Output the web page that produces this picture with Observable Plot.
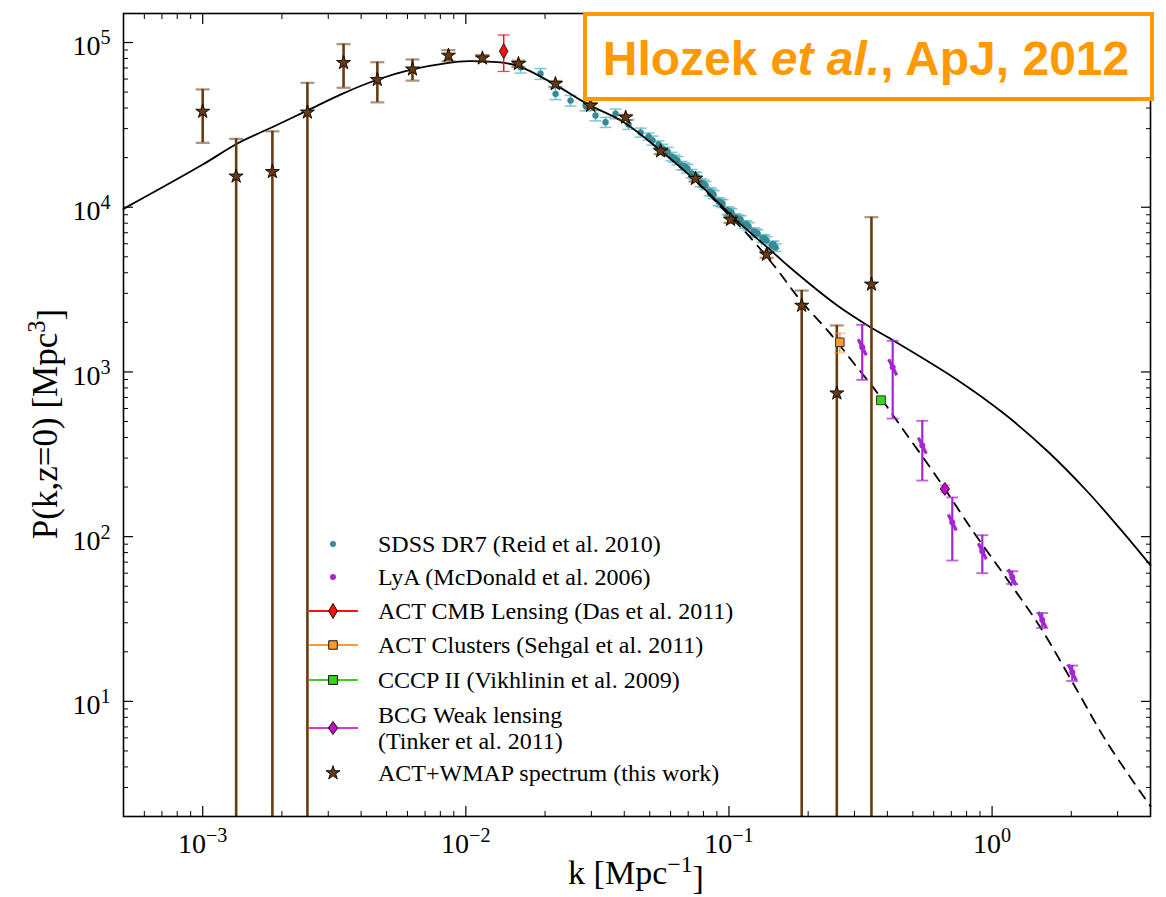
<!DOCTYPE html>
<html>
<head>
<meta charset="utf-8">
<script src="https://cdn.jsdelivr.net/npm/d3@7"></script>
<script src="https://cdn.jsdelivr.net/npm/@observablehq/plot@0.6"></script>
<style>
  html, body { margin: 0; padding: 0; background: #fff; }
  #chart { width: 1166px; height: 897px; }
</style>
</head>
<body>
<div id="chart"></div>
<script>
// ---------- data ----------
// Axis ranges and decade tick labels
const xDomain = [5e-4, 4];
const yDomain = [2, 1.5e5];
const xMajor = [1e-3, 1e-2, 1e-1, 1];
const xMajorExp = ["\u22123", "\u22122", "\u22121", "0"];
const yMajor = [1e1, 1e2, 1e3, 1e4, 1e5];
const yMajorExp = ["1", "2", "3", "4", "5"];

// Nonlinear model power spectrum (solid)
const nlK = [5.0e-4, 0.001, 0.00135, 0.001836, 0.002494, 0.003388, 0.004603, 0.006252, 0.00861, 0.01026, 0.0117, 0.01393, 0.01589, 0.02158, 0.0289, 0.03981, 0.05495, 0.07464, 0.1105, 0.1482, 0.1689, 0.2582, 0.3452, 0.4112, 0.7261, 1.109, 1.621, 2.301, 3.078, 4.003];
const nlP = [9770, 18150, 24300, 30600, 38600, 48800, 59400, 68600, 75300, 77000, 76700, 75300, 71800, 56100, 42400, 32800, 22100, 14500, 7929, 5264, 4365, 2530, 1868, 1589, 910, 559, 331, 188, 110.7, 66.9];

// Linear model power spectrum (dashed)
const linK = [0.07464, 0.0929, 0.1140, 0.1482, 0.1872, 0.2432, 0.3076, 0.3504, 0.4488, 0.6189, 0.8528, 1.142, 1.529, 2.108, 2.741, 4.003];
const linP = [14500, 10090, 7230, 4430, 2716, 1702, 1060, 820, 470, 228, 106, 55, 28, 11.6, 5.6, 2.3];

// SDSS DR7 LRG band powers
const sdssK = [0.01614, 0.01922, 0.02193, 0.02500, 0.02851, 0.03112, 0.03396, 0.03707, 0.04153, 0.04613, 0.05124, 0.05592, 0.05842, 0.06050, 0.06375, 0.06602, 0.06958, 0.07208, 0.07530, 0.07799, 0.08148, 0.08438, 0.08738, 0.09130, 0.09456, 0.09879, 0.1023, 0.1059, 0.1107, 0.1147, 0.1187, 0.1240, 0.1285, 0.1342, 0.1390, 0.1452, 0.1504,
  0.04948, 0.05400, 0.06210, 0.06780, 0.07398, 0.08007, 0.08586, 0.09290, 0.1005, 0.1087, 0.1166, 0.1262, 0.1365, 0.1477];
const sdssP = [70800, 64600, 48800, 44400, 41450, 36050, 32820, 36910, 31780, 28420, 25410, 22720, 21790, 20320, 19210, 17920, 17180, 16020, 15360, 14130, 13550, 12450, 11940, 10830, 10530, 9550, 9290, 8660, 8420, 7850, 7636, 7120, 6922, 6457, 6278, 5855, 5692,
  26880, 24030, 19760, 17670, 15580, 13930, 12290, 10680, 9417, 8540, 7852, 7020, 6457, 5935];
const sdssSigma = [5600, 4900, 3800, 3300, 3000, 2600, 2300, 2500, 2100, 1800, 1600, 1400, 1300, 1200, 1100, 1050, 1000, 930, 880, 800, 760, 700, 660, 600, 580, 520, 500, 470, 450, 420, 410, 380, 370, 345, 335, 315, 305,
  1350, 1200, 990, 880, 780, 700, 615, 535, 470, 430, 395, 350, 325, 300];

// Lyman-alpha forest
const lyaK = [0.321, 0.419, 0.543, 0.706, 0.918, 1.193, 1.551, 2.017];
const lyaP = [1413, 1069, 357, 122, 81.5, 56.7, 31.2, 15.0];
const lyaHi = [1932, 1545, 505, 173, 102, 61.7, 34.4, 16.5];
const lyaLo = [895, 521, 219, 71.6, 60, 51.6, 27.9, 13.3];

// ACT CMB lensing
const cmbK = [0.01393];
const cmbP = [88600];
const cmbHi = [111000];
const cmbLo = [66700];

// ACT clusters
const clusK = [0.2639];
const clusP = [1514];
const clusHi = [1718];
const clusLo = [1306];

// CCCP II clusters
const cccpK = [0.378];
const cccpP = [673];
const cccpHi = [700];
const cccpLo = [648];

// BCG weak lensing
const bcgK = [0.6615];
const bcgP = [195];
const bcgHi = [205];
const bcgLo = [186];

// ACT+WMAP reconstructed spectrum (lower bound 0 = consistent with zero)
const actK = [0.001, 0.00134, 0.00184, 0.0025, 0.00343, 0.00461, 0.00627, 0.00859, 0.01156, 0.01585, 0.0219, 0.0298, 0.0405, 0.055, 0.0746, 0.1014, 0.139, 0.189, 0.257, 0.348];
const actP = [38100, 15400, 16400, 37700, 75300, 59400, 68800, 83400, 80300, 74300, 56100, 41400, 35100, 21900, 14900, 8410, 5160, 2530, 743, 3400];
const actHi = [51900, 26000, 28900, 56900, 97700, 75900, 78900, 89800, 84000, 77600, 58400, 43000, 36400, 22800, 15500, 8800, 5400, 3120, 1915, 8700];
const actLo = [24600, 0, 0, 0, 53100, 43300, 58700, 77000, 76700, 71000, 53800, 39800, 33800, 21000, 14300, 8030, 4930, 0, 0, 0];

// ---------- tables ----------
const rows = (K, P, Hi, Lo) => K.map((k, i) => ({k, P: P[i], hi: Hi[i], lo: Lo[i] > 0 ? Lo[i] : yDomain[0], hasLo: Lo[i] > 0}));
const nonlin = nlK.map((k, i) => ({k, P: nlP[i]}));
const linear = linK.map((k, i) => ({k, P: linP[i]}));
const sdss = sdssK.map((k, i) => ({k, P: sdssP[i], hi: sdssP[i] + sdssSigma[i], lo: sdssP[i] - sdssSigma[i]}));
const lya = rows(lyaK, lyaP, lyaHi, lyaLo);
const cmb = rows(cmbK, cmbP, cmbHi, cmbLo);
const clus = rows(clusK, clusP, clusHi, clusLo);
const cccp = rows(cccpK, cccpP, cccpHi, cccpLo);
const bcg = rows(bcgK, bcgP, bcgHi, bcgLo);
const act = rows(actK, actP, actHi, actLo);

// minor log ticks (2..9 x 10^n) inside a range
function minorTicks([lo, hi]) {
  const t = [];
  for (let e = -5; e <= 6; e++) for (let m = 2; m <= 9; m++) {
    const v = m * Math.pow(10, e);
    if (v > lo * 1.0001 && v < hi * 0.9999) t.push(v);
  }
  return t;
}

// ---------- symbols ----------
const capSym = {draw(c, s) { const r = Math.sqrt(s / Math.PI); c.moveTo(-r, 0); c.lineTo(r, 0); }};
const thinDiamond = {draw(c, s) { const r = Math.sqrt(s / Math.PI); c.moveTo(0, -r); c.lineTo(0.58 * r, 0); c.lineTo(0, r); c.lineTo(-0.58 * r, 0); c.closePath(); }};
const diamondSym = {draw(c, s) { const r = Math.sqrt(s / Math.PI); c.moveTo(0, -r); c.lineTo(0.72 * r, 0); c.lineTo(0, r); c.lineTo(-0.72 * r, 0); c.closePath(); }};
const slashSym = {draw(c, s) { const r = Math.sqrt(s / Math.PI); c.moveTo(-0.5 * r, -r); c.lineTo(0.5 * r, r); }};

// ---------- colours ----------
const brown = "#6b3a0e";
const starFill = "#6a390f";
const sdssBar = "#52b5bf";
const sdssDot = "#3a8796";
const purple = "#a524d4";
const red = "#ff1010";
const orange = "#ff9a2a";
const green = "#3ad21e";
const magenta = "#c010c0";
const magentaLine = "#e030e0";
const titleOrange = "#ff9900";

// error bars: vertical rule + caps
function errorBars(data, color, width, capR, capOpacity) {
  return [
    Plot.ruleX(data, {x: "k", y1: "lo", y2: "hi", stroke: color, strokeWidth: width}),
    Plot.dot(data, {x: "k", y: "hi", symbol: capSym, r: capR, stroke: color, strokeWidth: width * 0.85, strokeOpacity: capOpacity}),
    Plot.dot(data.filter(d => d.hasLo !== false), {x: "k", y: "lo", symbol: capSym, r: capR, stroke: color, strokeWidth: width * 0.85, strokeOpacity: capOpacity})
  ];
}

const serif = "'Liberation Serif', 'Times New Roman', 'DejaVu Serif', serif";

const chart = Plot.plot({
  width: 1166,
  height: 897,
  marginLeft: 123,
  marginRight: 16,
  marginTop: 13,
  marginBottom: 81,
  x: {type: "log", domain: xDomain},
  y: {type: "log", domain: yDomain},
  style: {fontFamily: serif, background: "white", color: "black", overflow: "visible"},
  marks: [
    // SDSS
    Plot.ruleX(sdss, {x: "k", y1: "lo", y2: "hi", stroke: sdssBar, strokeWidth: 1.6, strokeOpacity: 0.85}),
    Plot.dot(sdss, {x: "k", y: "hi", symbol: capSym, r: 6, stroke: sdssBar, strokeWidth: 1.5, strokeOpacity: 0.75}),
    Plot.dot(sdss, {x: "k", y: "lo", symbol: capSym, r: 6, stroke: sdssBar, strokeWidth: 1.5, strokeOpacity: 0.75}),
    Plot.dot(sdss, {x: "k", y: "P", r: 3.2, fill: sdssDot}),

    // model curves
    Plot.line(linear, {x: "k", y: "P", stroke: "black", strokeWidth: 1.8, strokeDasharray: "10,8", curve: "catmull-rom"}),
    Plot.line(nonlin, {x: "k", y: "P", stroke: "black", strokeWidth: 1.8, curve: "catmull-rom"}),

    // Lyman-alpha
    ...errorBars(lya, purple, 2.2, 6, 0.7),
    Plot.dot(lya, {x: "k", y: "P", symbol: slashSym, r: 8, stroke: purple, strokeWidth: 3.2}),
    Plot.dot(lya, {x: "k", y: "P", r: 3, fill: purple}),

    // ACT+WMAP error bars
    ...errorBars(act, brown, 2.6, 7, 0.55),

    // ACT CMB lensing
    ...errorBars(cmb, red, 1.5, 6, 0.8),
    Plot.dot(cmb, {x: "k", y: "P", symbol: thinDiamond, r: 7.5, fill: red, stroke: "black", strokeWidth: 0.8}),

    // ACT clusters
    ...errorBars(clus, orange, 1.5, 6, 0.6),
    Plot.dot(clus, {x: "k", y: "P", symbol: "square", r: 4.8, fill: orange, stroke: "#333", strokeWidth: 1}),

    // CCCP II
    ...errorBars(cccp, green, 1.5, 5, 0.6),
    Plot.dot(cccp, {x: "k", y: "P", symbol: "square", r: 5, fill: green, stroke: "#333", strokeWidth: 1}),

    // BCG weak lensing
    ...errorBars(bcg, magentaLine, 1.5, 5, 0.6),
    Plot.dot(bcg, {x: "k", y: "P", symbol: diamondSym, r: 6.5, fill: magenta, stroke: "black", strokeWidth: 0.8}),

    // ACT+WMAP stars
    Plot.dot(act, {x: "k", y: "P", symbol: "star", r: 4.4, fill: starFill, stroke: "black", strokeWidth: 0.9}),

    Plot.frame({stroke: "black", strokeWidth: 1.6}),

    // inward ticks on all four sides
    Plot.axisX(xMajor, {anchor: "bottom", tickSize: -10, fill: "none", label: null, strokeWidth: 1.2}),
    Plot.axisX(minorTicks(xDomain), {anchor: "bottom", tickSize: -5, fill: "none", label: null, strokeWidth: 1}),
    Plot.axisX(xMajor, {anchor: "top", tickSize: -10, fill: "none", label: null, strokeWidth: 1.2}),
    Plot.axisX(minorTicks(xDomain), {anchor: "top", tickSize: -5, fill: "none", label: null, strokeWidth: 1}),
    Plot.axisY(yMajor, {anchor: "left", tickSize: -10, fill: "none", label: null, strokeWidth: 1.2}),
    Plot.axisY(minorTicks(yDomain), {anchor: "left", tickSize: -5, fill: "none", label: null, strokeWidth: 1}),
    Plot.axisY(yMajor, {anchor: "right", tickSize: -10, fill: "none", label: null, strokeWidth: 1.2}),
    Plot.axisY(minorTicks(yDomain), {anchor: "right", tickSize: -5, fill: "none", label: null, strokeWidth: 1}),

    // decade labels
    Plot.axisX(xMajor, {anchor: "bottom", tickSize: 0, tickPadding: 17, label: null, fontSize: 28,
      tickFormat: d => "10^" + xMajorExp[xMajor.indexOf(d)]}),
    Plot.axisY(yMajor, {anchor: "left", tickSize: 0, tickPadding: 13, label: null, fontSize: 28, dy: 4,
      tickFormat: d => "10^" + yMajorExp[yMajor.indexOf(d)]})
  ]
});

document.getElementById("chart").appendChild(chart);
const svg = d3.select(chart);

// write "10^n" tick labels with a raised exponent
svg.selectAll("text").each(function () {
  const t = this.textContent;
  if (t.startsWith("10^")) {
    const sel = d3.select(this);
    sel.text(null);
    sel.append("tspan").text("10");
    sel.append("tspan").attr("dy", "-0.55em").attr("font-size", "0.72em").text(t.slice(3));
  }
});

// axis titles
const xt = svg.append("text")
  .attr("x", 636).attr("y", 884)
  .attr("text-anchor", "middle")
  .attr("font-family", serif).attr("font-size", 34).attr("fill", "black");
xt.append("tspan").text("k [Mpc");
xt.append("tspan").attr("dy", "-0.5em").attr("font-size", "0.7em").text("\u22121");
xt.append("tspan").attr("dy", "0.5em").text("]");

const yt = svg.append("text")
  .attr("transform", "translate(57,424) rotate(-90)")
  .attr("text-anchor", "middle")
  .attr("font-family", serif).attr("font-size", 35).attr("fill", "black");
yt.append("tspan").text("P(k,z=0) [Mpc");
yt.append("tspan").attr("dy", "-0.5em").attr("font-size", "0.7em").text("3");
yt.append("tspan").attr("dy", "0.5em").text("]");

// legend
const legendEntries = [
  {lines: ["SDSS DR7 (Reid et al. 2010)"], y: 544, dot: sdssDot},
  {lines: ["LyA (McDonald et al. 2006)"], y: 577, dot: purple},
  {lines: ["ACT CMB Lensing (Das et al. 2011)"], y: 611, line: red, sym: thinDiamond, r: 7.5, fill: red},
  {lines: ["ACT Clusters (Sehgal et al. 2011)"], y: 645, line: orange, sym: d3.symbolSquare, r: 4.8, fill: orange},
  {lines: ["CCCP II (Vikhlinin et al. 2009)"], y: 680, line: green, sym: d3.symbolSquare, r: 5, fill: green},
  {lines: ["BCG Weak lensing", "(Tinker et al. 2011)"], y: 728, line: magentaLine, sym: diamondSym, r: 6.5, fill: magenta},
  {lines: ["ACT+WMAP spectrum (this work)"], y: 773, sym: d3.symbolStar, r: 4.4, fill: starFill}
];
const lg = svg.append("g").attr("font-family", serif).attr("font-size", 24).attr("text-anchor", "start");
for (const e of legendEntries) {
  if (e.line) lg.append("line").attr("x1", 309).attr("x2", 358).attr("y1", e.y).attr("y2", e.y)
    .attr("stroke", e.line).attr("stroke-width", 2);
  if (e.dot) lg.append("circle").attr("cx", 333).attr("cy", e.y).attr("r", 3).attr("fill", e.dot);
  if (e.sym) lg.append("path")
    .attr("d", d3.symbol(e.sym, Math.PI * e.r * e.r)())
    .attr("transform", `translate(333,${e.y})`)
    .attr("fill", e.fill).attr("stroke", "black").attr("stroke-width", 0.9);
  const n = e.lines.length;
  e.lines.forEach((s, i) => {
    lg.append("text").attr("x", 378).attr("y", e.y + (i - (n - 1) / 2) * 26)
      .attr("dy", "0.35em").attr("text-anchor", "start").attr("fill", "black").text(s);
  });
}

// citation box
const box = svg.append("g");
box.append("rect").attr("x", 585).attr("y", 14).attr("width", 567).attr("height", 85)
  .attr("fill", "white").attr("stroke", titleOrange).attr("stroke-width", 4);
const tt = box.append("text").attr("x", 866).attr("y", 75).attr("text-anchor", "middle")
  .attr("font-family", "'Liberation Sans', Arial, Helvetica, sans-serif")
  .attr("font-size", 48).attr("font-weight", "bold").attr("fill", titleOrange);
tt.append("tspan").text("Hlozek ");
tt.append("tspan").attr("font-style", "italic").text("et al.");
tt.append("tspan").text(", ApJ, 2012");
</script>
</body>
</html>
